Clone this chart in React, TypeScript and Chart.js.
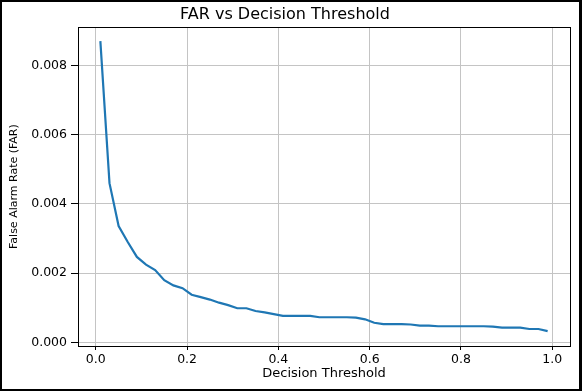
import React, { useEffect, useRef } from "react";
import { Chart, registerables } from "chart.js";

Chart.register(...registerables);

const thresholds = [
  0.01, 0.03, 0.05, 0.07, 0.09, 0.11, 0.13, 0.15, 0.17, 0.19,
  0.21, 0.23, 0.25, 0.27, 0.29, 0.31, 0.33, 0.35, 0.37, 0.39,
  0.41, 0.43, 0.45, 0.47, 0.49, 0.51, 0.53, 0.55, 0.57, 0.59,
  0.61, 0.63, 0.65, 0.67, 0.69, 0.71, 0.73, 0.75, 0.77, 0.79,
  0.81, 0.83, 0.85, 0.87, 0.89, 0.91, 0.93, 0.95, 0.97, 0.99,
];

const farValues = [
  0.0087, 0.0046, 0.00336, 0.0029, 0.00247, 0.00225, 0.00209, 0.0018, 0.00165, 0.00157,
  0.00138, 0.00131, 0.00124, 0.00115, 0.00108, 0.00099, 0.00099, 0.00091, 0.00087, 0.00082,
  0.00077, 0.00077, 0.00077, 0.00077, 0.00073, 0.00073, 0.00073, 0.00073, 0.00072, 0.00067,
  0.00057, 0.00053, 0.00053, 0.00053, 0.00052, 0.00049, 0.00049, 0.00047, 0.00047, 0.00047,
  0.00047, 0.00047, 0.00047, 0.00046, 0.00043, 0.00043, 0.00043, 0.00039, 0.00039, 0.00033,
];

const xTicks = [0, 0.2, 0.4, 0.6, 0.8, 1.0];
const yTicks = [0, 0.002, 0.004, 0.006, 0.008];

const titleText = "FAR vs Decision Threshold";
const xLabel = "Decision Threshold";
const yLabel = "False Alarm Rate (FAR)";

const FONT = "'DejaVu Sans', sans-serif";

const framePlugin = {
  id: "frame",
  afterDraw(chart: any) {
    const { ctx, chartArea } = chart;
    ctx.save();
    ctx.strokeStyle = "#000";
    ctx.lineWidth = 1;
    ctx.strokeRect(
      Math.round(chartArea.left) + 0.5,
      Math.round(chartArea.top) + 0.5,
      Math.round(chartArea.right - chartArea.left),
      Math.round(chartArea.bottom - chartArea.top)
    );
    ctx.restore();
  },
};

export default function App() {
  const ref = useRef<HTMLCanvasElement | null>(null);

  useEffect(() => {
    if (!ref.current) return;
    const chart = new Chart(ref.current, {
      type: "line",
      data: {
        datasets: [
          {
            label: "FAR",
            data: thresholds.map((x, i) => ({ x, y: farValues[i] })),
            borderColor: "#1f77b4",
            backgroundColor: "#1f77b4",
            borderWidth: 2.2,
            pointRadius: 0,
            tension: 0,
            fill: false,
          },
        ],
      },
      options: {
        responsive: false,
        animation: false,
        devicePixelRatio: 1,
        layout: { padding: { left: 0, right: 12, top: 0, bottom: 0 } },
        plugins: {
          legend: { display: false },
          tooltip: { enabled: false },
          title: {
            display: true,
            text: titleText,
            color: "#000",
            font: { family: FONT, size: 16, weight: "normal" },
            padding: { top: 5, bottom: 3 },
          },
        },
        scales: {
          x: {
            type: "linear",
            min: -0.039,
            max: 1.039,
            afterBuildTicks: (s: any) => {
              s.ticks = xTicks.map((v) => ({ value: v }));
            },
            afterFit: (s: any) => {
              s.height = 45;
            },
            border: { display: false },
            grid: {
              color: "#c4c4c4",
              lineWidth: 1,
              tickColor: "#000",
              tickLength: 4,
              drawTicks: true,
            },
            ticks: {
              color: "#000",
              font: { family: FONT, size: 12.5 },
              padding: 2,
              maxRotation: 0,
              callback: (v: any) => Number(v).toFixed(1),
            },
            title: {
              display: true,
              text: xLabel,
              color: "#000",
              font: { family: FONT, size: 13 },
              padding: { top: 0, bottom: 10 },
            },
          },
          y: {
            type: "linear",
            min: -0.0001,
            max: 0.0091,
            afterBuildTicks: (s: any) => {
              s.ticks = yTicks.map((v) => ({ value: v }));
            },
            afterFit: (s: any) => {
              s.width = 78;
            },
            border: { display: false },
            grid: {
              color: "#c4c4c4",
              lineWidth: 1,
              tickColor: "#000",
              tickLength: 7,
              drawTicks: true,
            },
            ticks: {
              color: "#000",
              font: { family: FONT, size: 12.5 },
              padding: 4,
              callback: (v: any) => Number(v).toFixed(3),
            },
            title: {
              display: true,
              text: yLabel,
              color: "#000",
              font: { family: FONT, size: 11 },
              padding: { top: 8, bottom: 0 },
            },
          },
        },
      },
      plugins: [framePlugin],
    });
    return () => chart.destroy();
  }, []);

  return (
    <div
      style={{
        position: "fixed",
        left: 0,
        top: 0,
        width: 582,
        height: 391,
        background: "#fff",
      }}
    >
      <canvas ref={ref} width={582} height={391} style={{ display: "block" }} />
      <div
        style={{
          position: "absolute",
          left: 0,
          top: 0,
          width: 582,
          height: 391,
          boxSizing: "border-box",
          borderTop: "2px solid #000",
          borderLeft: "2px solid #000",
          borderRight: "3px solid #000",
          borderBottom: "2px solid #000",
          pointerEvents: "none",
        }}
      />
    </div>
  );
}
